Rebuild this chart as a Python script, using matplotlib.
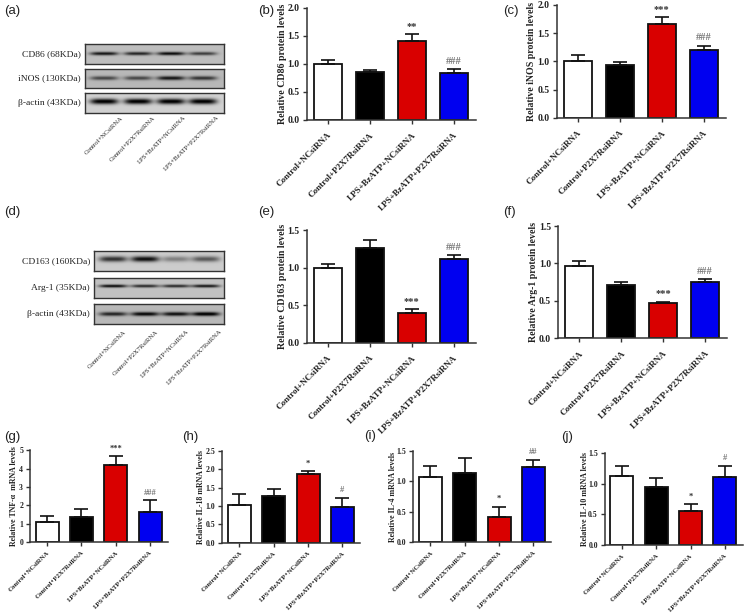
import numpy as np
import matplotlib
matplotlib.use("Agg")
import matplotlib.pyplot as plt

W, H = 744, 615

groups = ["Control+NCsiRNA", "Control+P2X7RsiRNA", "LPS+BzATP+NCsiRNA", "LPS+BzATP+P2X7RsiRNA"]
bar_colors = ["white", "black", "#d90000", "#0000f0"]

cd86_vals = [1.00, 0.86, 1.40, 0.84]
cd86_tops = [1.07, 0.88, 1.53, 0.91]
cd86_marks = ["", "", "**", "###"]

inos_vals = [1.00, 0.93, 1.67, 1.21]
inos_tops = [1.12, 0.98, 1.78, 1.28]
inos_marks = ["", "", "***", "###"]

cd163_vals = [1.00, 1.26, 0.39, 1.12]
cd163_tops = [1.05, 1.37, 0.45, 1.17]
cd163_marks = ["", "", "***", "###"]

arg1_vals = [0.97, 0.71, 0.47, 0.75]
arg1_tops = [1.03, 0.75, 0.49, 0.79]
arg1_marks = ["", "", "***", "###"]

tnf_vals = [1.10, 1.35, 4.20, 1.65]
tnf_tops = [1.42, 1.80, 4.68, 2.27]
tnf_marks = ["", "", "***", "###"]

il18_vals = [1.03, 1.26, 1.86, 0.98]
il18_tops = [1.33, 1.47, 1.95, 1.23]
il18_marks = ["", "", "*", "#"]

il4_vals = [1.07, 1.14, 0.41, 1.24]
il4_tops = [1.25, 1.38, 0.58, 1.35]
il4_marks = ["", "", "*", "##"]

il10_vals = [1.13, 0.95, 0.55, 1.11]
il10_tops = [1.30, 1.10, 0.67, 1.29]
il10_marks = ["", "", "*", "#"]

yticks_2 = [0.0, 0.5, 1.0, 1.5, 2.0]
yticks_15 = [0.0, 0.5, 1.0, 1.5]
yticks_5 = [0, 1, 2, 3, 4, 5]
yticks_25 = [0.0, 0.5, 1.0, 1.5, 2.0, 2.5]

# darkness of the band in each lane
cd86_bands = [0.68, 0.62, 0.72, 0.52]
inos_bands = [0.46, 0.46, 0.66, 0.54]
actin_a_bands = [0.85, 0.85, 0.85, 0.85]
cd163_bands = [0.62, 0.76, 0.30, 0.46]
arg1_bands = [0.74, 0.62, 0.62, 0.70]
actin_d_bands = [0.60, 0.72, 0.68, 0.78]

plt.rcParams["font.family"] = ["Liberation Serif", "DejaVu Serif"]

fig = plt.figure(figsize=(W / 100, H / 100), dpi=100)


def px_axes(left, top, right, bottom):
    return fig.add_axes([left / W, 1 - bottom / H, (right - left) / W, (bottom - top) / H])


def bar_panel(left, top, bottom, vals, tops, marks, yticks, ylabel, label_x, small=False):
    width = 138 if small else 169
    ax = px_axes(left, top, left + width, bottom)
    tick_fs = 5.6 if small else 7
    label_fs = 5.7 if small else 7.1
    xtick_fs = 4.85 if small else 6.5
    x = np.arange(len(groups))
    errs = [t - v for t, v in zip(tops, vals)]
    ax.bar(x, vals, width=0.67, color=bar_colors, edgecolor="#111111", linewidth=1.3,
           yerr=[np.zeros(4), errs],
           error_kw=dict(ecolor="#111111", elinewidth=1.2, capsize=5, capthick=1.2))
    for i, m in enumerate(marks):
        if m:
            col = "#777777" if "#" in m else "#333333"
            ax.annotate(m, (i, tops[i]), xytext=(0, 5.5), textcoords="offset points",
                        ha="center", va="center", fontsize=tick_fs + 0.5, color=col, fontweight="bold")
    ax.set_xlim(-0.5, 3.52)
    ax.set_ylim(yticks[0], yticks[-1])
    ax.set_yticks(yticks)
    ax.set_yticklabels([str(t) for t in yticks], fontsize=tick_fs, fontweight="bold", color="#222222")
    ax.set_xticks(x)
    ax.set_xticklabels(groups, rotation=45, ha="right", va="top", rotation_mode="anchor",
                       fontsize=xtick_fs, fontweight="bold", color="#222222")
    ax.set_ylabel(ylabel, fontsize=label_fs, fontweight="bold", color="#222222")
    ax.yaxis.set_label_coords(label_x, 0.5)
    ax.tick_params(axis="y", length=3, width=1, color="#333333", pad=2)
    ax.tick_params(axis="x", length=3, width=1, color="#333333", pad=2.5 if small else 5)
    ax.spines[["top", "right"]].set_visible(False)
    ax.spines[["left", "bottom"]].set_linewidth(1.1)
    ax.spines[["left", "bottom"]].set_color("#333333")
    return ax


def blot_row(left, top, right, bottom, lanes, bands, thick, bg, frac, label):
    ax = px_axes(left, top, right, bottom)
    nx, ny = int(right - left) * 2, int(bottom - top) * 2
    xx = np.linspace(left, right, nx)
    yy = np.linspace(0, 1, ny)
    img = np.full((ny, nx), float(bg))
    for lane, b in zip(lanes, bands):
        horiz = np.exp(-(((xx - lane) / 14) ** 4))
        vert = np.exp(-(((yy - frac) * (bottom - top) / thick) ** 2))
        img -= b * np.outer(vert, horiz)
    ax.imshow(np.clip(img, 0, 1), cmap="gray", vmin=0, vmax=1, aspect="auto", interpolation="bilinear")
    ax.set_xticks([])
    ax.set_yticks([])
    for s in ax.spines.values():
        s.set_linewidth(1.0)
        s.set_color("#333333")
    fig.text((left - 4) / W, 1 - (top + bottom) / 2 / H, label, ha="right", va="center",
             fontsize=6.8, color="#222222")


def blot_lane_labels(ends, y):
    for name, xe in zip(groups, ends):
        fig.text(xe / W, 1 - y / H, name, rotation=45, ha="right", va="top", rotation_mode="anchor",
                 fontsize=4.8, color="#222222")


# western blots (a)
lanes_a = [104, 138, 171, 203]
blot_row(85, 44, 224, 64, lanes_a, cd86_bands, 1.7, 0.74, 0.48, "CD86 (68KDa)")
blot_row(85, 69, 224, 88, lanes_a, inos_bands, 2.0, 0.72, 0.48, "iNOS (130KDa)")
blot_row(85, 93, 224, 113, lanes_a, actin_a_bands, 2.8, 0.82, 0.42, "β-actin (43KDa)")
blot_lane_labels([121, 153, 183, 217], 115)

# western blots (d)
lanes_d = [113, 145, 176, 206]
blot_row(94, 251, 224, 271, lanes_d, cd163_bands, 2.8, 0.80, 0.40, "CD163 (160KDa)")
blot_row(94, 278, 224, 298, lanes_d, arg1_bands, 1.5, 0.76, 0.40, "Arg-1 (35KDa)")
blot_row(94, 304, 224, 324, lanes_d, actin_d_bands, 2.0, 0.72, 0.50, "β-actin (43KDa)")
blot_lane_labels([124, 156, 186, 220], 329)

# bar panels
bar_panel(306.7, 7.5, 120, cd86_vals, cd86_tops, cd86_marks, yticks_2, "Relative CD86 protein levels", -0.116)
bar_panel(556.7, 5, 117.7, inos_vals, inos_tops, inos_marks, yticks_2, "Relative iNOS protein levels", -0.125)
bar_panel(306.7, 230, 342.7, cd163_vals, cd163_tops, cd163_marks, yticks_15, "Relative CD163 protein levels", -0.116)
bar_panel(558, 226, 338.3, arg1_vals, arg1_tops, arg1_marks, yticks_15, "Relative Arg-1 protein levels", -0.118)
bar_panel(30, 450.3, 542, tnf_vals, tnf_tops, tnf_marks, yticks_5, "Relative TNF-α  mRNA levels", -0.087, small=True)
bar_panel(222.3, 451, 542.7, il18_vals, il18_tops, il18_marks, yticks_25, "Relative IL-18 mRNA levels", -0.125, small=True)
bar_panel(413.3, 450.7, 542.3, il4_vals, il4_tops, il4_marks, yticks_15, "Relative IL-4 mRNA levels", -0.118, small=True)
bar_panel(604.7, 453.3, 545, il10_vals, il10_tops, il10_marks, yticks_15, "Relative IL-10 mRNA levels", -0.114, small=True)

panel_letters = ["(a)", "(b)", "(c)", "(d)", "(e)", "(f)", "(g)", "(h)", "(i)", "(j)"]
letter_xs = [4, 258, 503, 4, 258, 503, 4, 182, 364, 561]
letter_ys = [11, 11, 11, 212, 212, 212, 437, 437, 436, 437]
for t, lx, ly in zip(panel_letters, letter_xs, letter_ys):
    fig.text(lx / W, 1 - ly / H, t, ha="left", va="center", fontsize=9.5,
             family="Liberation Sans", color="#222222")

fig.savefig("out.png", dpi=100)
